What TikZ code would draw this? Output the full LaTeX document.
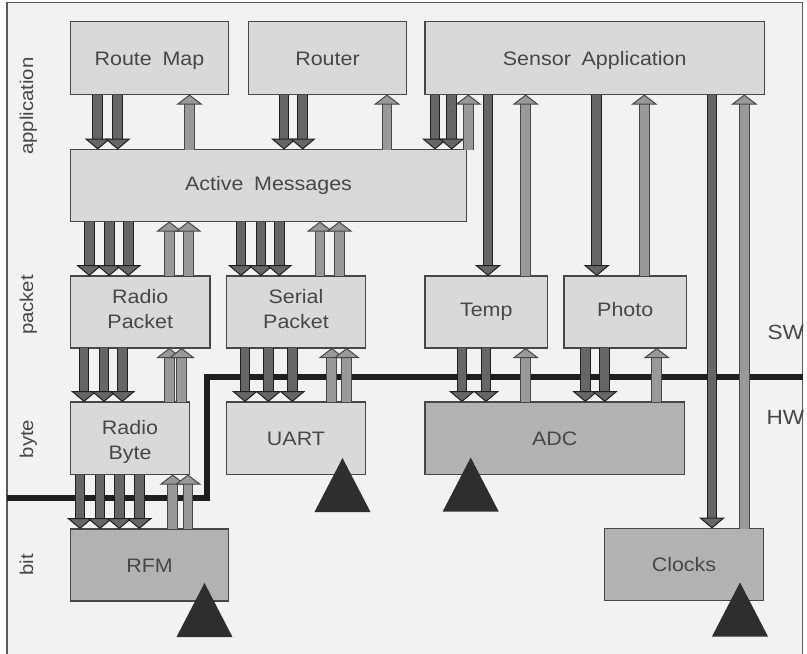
\documentclass[tikz,border=0pt]{standalone}
\usepackage{fontspec}
\setmainfont[FakeStretch=1.1,WordSpace=1.8]{Liberation Sans}
\usepackage{xcolor}
\usetikzlibrary{positioning, arrows.meta}
\definecolor{panel}{gray}{0.95}
\definecolor{boxfill}{gray}{0.85}
\definecolor{hwfill}{gray}{0.70}
\definecolor{edge}{gray}{0.28}
\definecolor{downfill}{gray}{0.40}
\definecolor{upfill}{gray}{0.60}
\definecolor{markfill}{gray}{0.18}

\begin{document}
\begin{tikzpicture}[
    x=1pt, y=-1pt,
    box/.style={
        rectangle, anchor=north west,
        draw=edge, line width=1.1pt,
        fill=boxfill, text=black!72,
        inner sep=0pt, outer sep=0pt,
        minimum height=73pt,
        text height=14pt, text depth=0pt,
        align=center, font=\fontsize{19.5}{25}\selectfont
    },
    hwbox/.style={box, fill=hwfill},
    levellabel/.style={rotate=90, anchor=base, text=black!72, font=\fontsize{18.5}{24}\selectfont},
    sidelabel/.style={anchor=base west, inner sep=0pt, text=black!72, font=\fontsize{20.5}{26}\selectfont},
    downflow/.style={
        draw=black!88, line width=1pt, double=downfill, double distance=8.5pt,
        -{Triangle[length=11pt, width=26pt, line width=1pt, fill=downfill, color=black!88]}
    },
    upflow/.style={
        draw=black!72, line width=1pt, double=upfill, double distance=8.5pt,
        -{Triangle[length=10pt, width=26pt, line width=1pt, fill=upfill, color=black!72]}
    },
    divide/.style={draw=black!88, line width=6pt, miter limit=10}
]
\clip (0,0) rectangle (807,654);
\fill[white] (0,0) rectangle (807,654);
\draw[draw=black!65, fill=panel, line width=1.2pt] (7,2.5) rectangle (802.5,670);

% Boxes, top down
\node[box, minimum width=158pt] (routemap) at (70.5,21.5) {Route Map};
\node[box, minimum width=158pt, right=20pt of routemap.north east, anchor=north west] (router) {Router};
\node[box, minimum width=339.5pt, right=18.5pt of router.north east, anchor=north west] (sensor) {Sensor Application};
\node[box, minimum width=396pt, minimum height=72pt, text height=10pt] (active) at (70.5,149.5) {Active Messages};

\node[box, minimum width=139.5pt, minimum height=72pt, text height=32pt] (radiopkt) at (70.5,276) {Radio\\Packet};
\node[box, minimum width=139pt, minimum height=72pt, text height=32pt, right=16.5pt of radiopkt.north east, anchor=north west] (serialpkt) {Serial\\Packet};
\node[box, minimum width=122.5pt, minimum height=72pt, text height=8pt] (temp) at (425,276) {Temp};
\node[box, minimum width=122.5pt, minimum height=72pt, text height=8pt, right=16.5pt of temp.north east, anchor=north west] (photo) {Photo};

\node[box, minimum width=119pt, minimum height=72.5pt, text height=42pt] (radiobyte) at (70.5,402) {Radio\\Byte};
\node[box, minimum width=139pt, minimum height=72.5pt] (uart) at (226.5,402) {UART};
\node[hwbox, minimum width=259.5pt, minimum height=72.5pt] (adc) at (425,402) {ADC};

\node[hwbox, minimum width=158pt, minimum height=72pt] (rfm) at (70.5,529) {RFM};
\node[hwbox, minimum width=158.5pt, minimum height=72pt] (clocks) at (604.7,528.5) {Clocks};

% SW/HW boundary goes under the arrows
\coordinate (swend) at (802.5,376.7);
\coordinate (hwend) at (7,498.3);
\draw[divide] (swend) -- (207,376.7) -- (207,498.3) -- (hwend);

% Arrows between the application layer and active messages
\foreach \xa in {97.7,117.7} \draw[downflow] (\xa,0 |- routemap.south) -- (\xa,0 |- active.north);
\draw[upflow] (189.5,0 |- active.north) -- (189.5,0 |- routemap.south);
\foreach \xa in {284,302.7} \draw[downflow] (\xa,0 |- router.south) -- (\xa,0 |- active.north);
\draw[upflow] (387,0 |- active.north) -- (387,0 |- router.south);
\foreach \xa in {435,451.7} \draw[downflow] (\xa,0 |- sensor.south) -- (\xa,0 |- active.north);
\draw[upflow] (468.3,0 |- active.north) -- (468.3,0 |- sensor.south);

% Sensor application down to its devices
\draw[downflow] (488,0 |- sensor.south) -- (488,0 |- temp.north);
\draw[upflow] (525.7,0 |- temp.north) -- (525.7,0 |- sensor.south);
\draw[downflow] (596.7,0 |- sensor.south) -- (596.7,0 |- photo.north);
\draw[upflow] (644.3,0 |- photo.north) -- (644.3,0 |- sensor.south);
\draw[downflow] (712,0 |- sensor.south) -- (712,0 |- clocks.north);
\draw[upflow] (744.3,0 |- clocks.north) -- (744.3,0 |- sensor.south);

% Active messages to packet level
\foreach \xa in {89.3,109.3,128.3} \draw[downflow] (\xa,0 |- active.south) -- (\xa,0 |- radiopkt.north);
\foreach \xa in {169.3,188.3} \draw[upflow] (\xa,0 |- radiopkt.north) -- (\xa,0 |- active.south);
\foreach \xa in {241,261,279.3} \draw[downflow] (\xa,0 |- active.south) -- (\xa,0 |- serialpkt.north);
\foreach \xa in {320,339.3} \draw[upflow] (\xa,0 |- serialpkt.north) -- (\xa,0 |- active.south);

% Packet level to byte level
\foreach \xa in {84,104,122.3} \draw[downflow] (\xa,0 |- radiopkt.south) -- (\xa,0 |- radiobyte.north);
\foreach \xa in {169.3,181.7} \draw[upflow] (\xa,0 |- radiobyte.north) -- (\xa,0 |- radiopkt.south);
\foreach \xa in {245,268.3,292.3} \draw[downflow] (\xa,0 |- serialpkt.south) -- (\xa,0 |- uart.north);
\foreach \xa in {331.7,346.7} \draw[upflow] (\xa,0 |- uart.north) -- (\xa,0 |- serialpkt.south);
\foreach \xa in {462,486} \draw[downflow] (\xa,0 |- temp.south) -- (\xa,0 |- adc.north);
\draw[upflow] (525.7,0 |- adc.north) -- (525.7,0 |- temp.south);
\foreach \xa in {585.3,604.7} \draw[downflow] (\xa,0 |- photo.south) -- (\xa,0 |- adc.north);
\draw[upflow] (656.7,0 |- adc.north) -- (656.7,0 |- photo.south);

% Radio byte to RFM
\foreach \xa in {80,100,119.3,139.3} \draw[downflow] (\xa,0 |- radiobyte.south) -- (\xa,0 |- rfm.north);
\foreach \xa in {172.7,188} \draw[upflow] (\xa,0 |- rfm.north) -- (\xa,0 |- radiobyte.south);

% Hardware marks
\foreach \tx/\ty in {204.5/583, 342.5/458, 470.7/457.5, 740/582.5}
    \fill[markfill] (\tx,\ty) -- ++(28,54) -- ++(-56,0) -- cycle;

% Level and side labels
\node[levellabel] (application) at (33,106) {application};
\node[levellabel] (packet) at (33,305) {packet};
\node[levellabel] (byte) at (33,439) {byte};
\node[levellabel] (bit) at (33,565) {bit};
\node[sidelabel] (sw) at (767.5,339) {SW};
\node[sidelabel] (hw) at (766.5,424) {HW};

\end{tikzpicture}
\end{document}
